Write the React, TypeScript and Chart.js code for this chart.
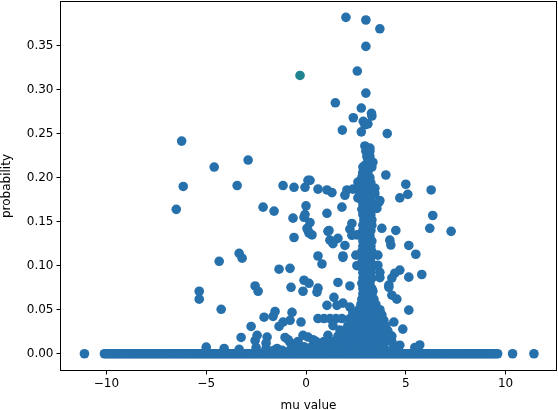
import React, { useEffect, useRef } from "react";
import { Chart, registerables } from "chart.js";

Chart.register(...registerables);

const baselineMu = [
  -11.1, -10.1, -10.0, -9.9, -9.8, -9.7, -9.6, -9.5, -9.4, -9.3, -9.2, -9.1, -9.0, -8.9, -8.8, -8.7, -8.6, -8.5, -8.4, -8.3, -8.2, -8.1,
  -8.0, -7.9, -7.8, -7.7, -7.6, -7.5, -7.4, -7.3, -7.2, -7.1, -7.0, -6.9, -6.8, -6.7, -6.6, -6.5, -6.4, -6.3, -6.2, -6.1,
  -6.0, -5.9, -5.8, -5.7, -5.6, -5.5, -5.4, -5.3, -5.2, -5.1, -5.0, -4.9, -4.8, -4.7, -4.6, -4.5, -4.4, -4.3, -4.2, -4.1,
  -4.0, -3.9, -3.8, -3.7, -3.6, -3.5, -3.4, -3.3, -3.2, -3.1, -3.0, -2.9, -2.8, -2.7, -2.6, -2.5, -2.4, -2.3, -2.2, -2.1,
  -2.0, -1.9, -1.8, -1.7, -1.6, -1.5, -1.4, -1.3, -1.2, -1.1, -1.0, -0.9, -0.8, -0.7, -0.6, -0.5, -0.4, -0.3, -0.2, -0.1,
  0.0, 0.1, 0.2, 0.3, 0.4, 0.5, 0.6, 0.7, 0.8, 0.9, 1.0, 1.1, 1.2, 1.3, 1.4, 1.5, 1.6, 1.7, 1.8, 1.9, 2.0, 2.1,
  2.2, 2.3, 2.4, 2.5, 2.6, 2.7, 2.8, 2.9, 3.0, 3.1, 3.2, 3.3, 3.4, 3.5, 3.6, 3.7, 3.8, 3.9, 4.0, 4.1, 4.2, 4.3,
  4.4, 4.5, 4.6, 4.7, 4.8, 4.9, 5.0, 5.1, 5.2, 5.3, 5.4, 5.5, 5.6, 5.7, 5.8, 5.9, 6.0, 6.1, 6.2, 6.3, 6.4, 6.5,
  6.6, 6.7, 6.8, 6.9, 7.0, 7.1, 7.2, 7.3, 7.4, 7.5, 7.6, 7.7, 7.8, 7.9, 8.0, 8.1, 8.2, 8.3, 8.4, 8.5, 8.6, 8.7,
  8.8, 8.9, 9.0, 9.1, 9.2, 9.3, 9.4, 9.5, 9.6, 10.35, 11.42,
];

const outlierMu = [
  -6.23, -4.6, -2.9, -6.15, -3.45, -1.15, -0.6, -0.05, 0.1, 2.0, 3.0, 3.7, 3.0, 2.57, 3.0, 1.47, 2.77, 3.28, 3.3, 2.37,
  2.87, 3.1, 2.95, 1.82, 2.77, 4.07, 2.95, 3.2, 3.1, 3.1, 3.15, 3.35, 2.95, 2.85, 4.0, 3.1, 2.85, 2.6, 5.0, 6.27, 5.1, 4.7,
  0.2, 0.6, 1.05, 1.3, 2.05, 2.35, 2.7, 3.05, 1.95, 2.6, 3.7, -2.15, -1.6, -0.65, 0, -0.05, 1.05, 1.8, 6.35, 3.65,
  -0.1, 0.2, 0.1, 0.3, 0.15, 0.05, -0.6, 1.1, 1.2, 1.35, 1.6, 2.3, 2.2, 1.95, 1.85, 2.5, 0.6, 0.8, -1.35, -0.8, -0.1, 0.15,
  0.6, 0.55, -0.75, -0.15, -2.55, -2.4, 1.6, 2.2, 6.2, 7.27, 2.3, 1.15, 4.5, 3.8, 4.2, 4.25, 5.15, 5.5, 3.6, 1.85, 3.7, 3.6,
  4.7, 4.45, 4.3, 4.15, 4.15, 5.15, 5.8, 3.35, 4.3, 4.55, 1.4, 1.05, 1.55, 1.85, 2.2, 5.15, 4.4, 4.85, 1.1, 4.2, 3.7, 3.85,
  0.6, 0.9, 1.2, 1.5, 1.8, 2.2, 2.35, 1.35, 1.7, 5.7, 5.45, 4.7, -0.25, -6.5, -3.35, -3.2, -4.35, -5.35, -5.35, -4.25,
  -2.1, -1.65, -1.55, -0.7, -0.8, -1.15, -1.35, -2.75, -3.25, -2.55, -2.45, -1.95, -2.0, -5.0, -4.1, -3.35, -1.05, -0.8,
  -0.15, 0.1, -1.45, -0.65, -2.5, -2.0, -2.52, -2.02, -0.9, -0.4, 0.35, 3.7, 2.55, 2.55, 3.55,
];

const outlierProb = [
  0.2415, 0.212, 0.22, 0.19, 0.191, 0.191, 0.189, 0.189, 0.197, 0.382, 0.379, 0.369, 0.349, 0.321, 0.296, 0.285, 0.279, 0.273, 0.27, 0.268,
  0.264, 0.261, 0.26, 0.254, 0.252, 0.25, 0.236, 0.2335, 0.228, 0.222, 0.2165, 0.2175, 0.214, 0.212, 0.203, 0.2, 0.203, 0.195, 0.1925, 0.186, 0.181, 0.177,
  0.197, 0.187, 0.186, 0.183, 0.186, 0.187, 0.186, 0.183, 0.18, 0.177, 0.174, 0.1665, 0.162, 0.154, 0.168, 0.158, 0.1595, 0.1665, 0.157, 0.172,
  0.155, 0.149, 0.14, 0.135, 0.137, 0.1425, 0.132, 0.139, 0.129, 0.125, 0.131, 0.1345, 0.1415, 0.123, 0.111, 0.112, 0.111, 0.102, 0.096, 0.097, 0.0835, 0.08,
  0.0745, 0.07, 0.0755, 0.071, 0.077, 0.071, 0.081, 0.077, 0.1425, 0.139, 0.148, 0.14, 0.14, 0.1425, 0.129, 0.1235, 0.123, 0.113, 0.112, 0.1095, 0.0925, 0.1005,
  0.095, 0.0915, 0.086, 0.078, 0.0755, 0.087, 0.09, 0.071, 0.0665, 0.062, 0.064, 0.055, 0.055, 0.0575, 0.053, 0.0495, 0.036, 0.028, 0.021, 0.021, 0.048, 0.038,
  0.04, 0.04, 0.04, 0.04, 0.04, 0.04, 0.047, 0.032, 0.027, 0.01, 0.007, 0.0097, 0.036, 0.164, 0.114, 0.1085, 0.105, 0.071, 0.062, 0.0505,
  0.0415, 0.0425, 0.048, 0.047, 0.038, 0.036, 0.031, 0.031, 0.0185, 0.015, 0.021, 0.019, 0.012, 0.0075, 0.006, 0.005, 0.0185, 0.013,
  0.021, 0.019, 0.006, 0.009, 0.007, 0.006, 0.002, 0.002, 0.016, 0.014, 0.016, 0.0865, 0.1, 0.135, 0.165,
];

const columnProb = [
  0.23, 0.224, 0.218, 0.212, 0.206, 0.2, 0.194, 0.188, 0.182, 0.176, 0.17, 0.164, 0.158, 0.152, 0.146, 0.14, 0.134, 0.128, 0.122, 0.116,
  0.11, 0.104, 0.098, 0.092, 0.086, 0.08, 0.074, 0.068, 0.062, 0.056, 0.05, 0.044, 0.038, 0.032, 0.026, 0.02, 0.014, 0.008, 0.004,
];

const columnMu = [
  [3.0, 3.2], [3.05, 3.2], [3.1, 3.25], [2.9, 3.15, 3.3], [2.85, 3.1], [2.8, 3.0, 3.2], [2.75, 3.0, 3.25], [2.7, 2.95, 3.2, 3.45],
  [2.7, 2.95, 3.2, 3.45], [2.75, 3.0, 3.25], [2.85, 3.05, 3.25], [2.8, 3.0, 3.2], [2.85, 3.05, 3.25], [2.9, 3.1, 3.3], [2.85, 3.05, 3.3],
  [2.85, 3.05, 3.25], [2.8, 3.0, 3.2], [2.85, 3.05, 3.3], [2.85, 3.05, 3.25], [2.8, 3.05, 3.3], [2.85, 3.05, 3.25], [2.8, 3.0, 3.25],
  [2.8, 3.05, 3.3], [2.85, 3.05, 3.25], [2.85, 3.05, 3.3], [2.8, 3.0, 3.2], [2.85, 3.05, 3.3], [2.85, 3.05, 3.3], [2.8, 3.0, 3.2, 3.4],
  [2.75, 3.0, 3.25, 3.5], [2.65, 2.9, 3.15, 3.4, 3.7], [2.5, 2.8, 3.05, 3.3, 3.6, 3.8], [2.3, 2.6, 2.85, 3.1, 3.35, 3.6, 3.9],
  [2.1, 2.4, 2.7, 3.0, 3.25, 3.5, 3.75, 4.0], [1.9, 2.2, 2.5, 2.8, 3.1, 3.4, 3.7, 4.1],
  [1.6, 1.9, 2.2, 2.5, 2.8, 3.1, 3.4, 3.7, 4.0, 4.3], [0.5, 0.9, 1.3, 1.6, 1.9, 2.2, 2.5, 2.8, 3.1, 3.4, 3.7, 4.0, 4.3],
  [-0.5, -0.1, 0.3, 0.7, 1.1, 1.5, 1.9, 2.3, 2.7, 3.1, 3.5, 3.9, 4.4],
  [-2.0, -1.6, -1.2, -0.8, -0.4, 0.0, 0.4, 0.8, 1.2, 1.6, 2.0, 2.4, 2.8, 3.2, 3.6, 4.0, 4.6],
];

const accentMu = [-0.3];
const accentProb = [0.316];

const xTicks = [-10, -5, 0, 5, 10];
const yTicks = [0, 0.05, 0.1, 0.15, 0.2, 0.25, 0.3, 0.35];
const xTitle = "mu value";
const yTitle = "probability";

const zip = (xs: number[], ys: number[]) => xs.map((x, i) => ({ x, y: ys[i] }));

export default function App() {
  const ref = useRef<HTMLCanvasElement>(null);
  useEffect(() => {
    document.body.style.margin = "0";
    const font = { family: "'DejaVu Sans'", size: 12 };
    const frame = {
      id: "frame",
      afterDraw(c: any) {
        const { left, top, width, height } = c.chartArea;
        const g = c.ctx;
        g.save();
        g.strokeStyle = "#000";
        g.lineWidth = 1;
        g.strokeRect(left, top, width, height);
        g.restore();
      },
    };
    const noPad = (s: any) => {
      s.paddingTop = 0;
      s.paddingBottom = 0;
      s.paddingLeft = 0;
      s.paddingRight = 0;
    };
    const chart = new Chart(ref.current!, {
      type: "scatter",
      data: {
        datasets: [
          {
            data: [
              ...baselineMu.map((x) => ({ x, y: 0 })),
              ...zip(outlierMu, outlierProb),
              ...columnProb.flatMap((y, i) => columnMu[i].map((x) => ({ x, y }))),
            ],
            backgroundColor: "#2670ac",
            borderWidth: 0,
            pointRadius: 4.8,
          },
          {
            data: zip(accentMu, accentProb),
            backgroundColor: "#1f8490",
            borderWidth: 0,
            pointRadius: 4.8,
          },
        ],
      },
      options: {
        responsive: false,
        animation: false,
        layout: { autoPadding: false, padding: { top: 1.5, right: 1.5, left: 0, bottom: 0 } },
        plugins: { legend: { display: false }, tooltip: { enabled: false } },
        scales: {
          x: {
            type: "linear",
            min: -12.3,
            max: 12.55,
            afterFit(s: any) { s.height = 39.5; noPad(s); },
            afterBuildTicks(s: any) { s.ticks = xTicks.map((value) => ({ value })); },
            border: { color: "#000", width: 1 },
            grid: { drawOnChartArea: false, drawTicks: true, tickLength: 4, tickColor: "#000" },
            ticks: {
              color: "#000",
              font,
              padding: 2,
              maxRotation: 0,
              callback: (v: any) => String(v).replace("-", "\u2212"),
            },
            title: { display: true, text: xTitle, color: "#000", font, padding: { top: 3, bottom: -3 } },
          },
          y: {
            type: "linear",
            min: -0.019,
            max: 0.4,
            afterFit(s: any) { s.width = 60.5; noPad(s); },
            afterBuildTicks(s: any) { s.ticks = yTicks.map((value) => ({ value })); },
            border: { color: "#000", width: 1 },
            grid: { drawOnChartArea: false, drawTicks: true, tickLength: 4, tickColor: "#000" },
            ticks: { color: "#000", font, padding: 3, callback: (v: any) => Number(v).toFixed(2) },
            title: { display: true, text: yTitle, color: "#000", font, padding: { top: 0, bottom: 3 } },
          },
        },
      },
      plugins: [frame],
    } as any);
    return () => chart.destroy();
  }, []);
  return <canvas ref={ref} width={558} height={410} style={{ display: "block" }} />;
}
